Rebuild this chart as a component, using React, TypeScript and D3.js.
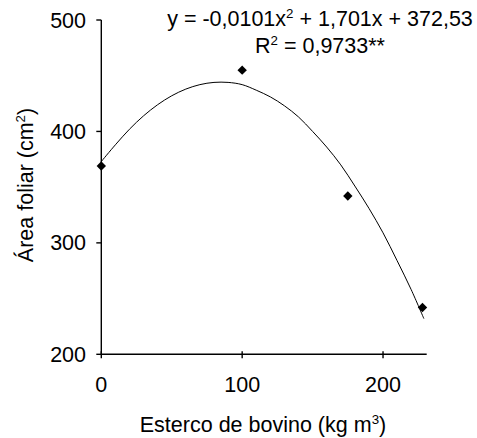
import { useEffect, useRef } from 'react'
import * as d3 from 'd3'

// observed points (esterco de bovino, area foliar)
const doseX = [0, 100, 175, 228]
const areaY = [369, 455, 342, 242]

// fitted curve
const curveX = [0, 10, 20, 30, 40, 50, 60, 70, 80, 90, 100, 110, 120, 130, 140, 150, 160, 170, 180, 190, 200, 210, 220, 229]
const curveY = [373, 388, 402, 414, 424, 432, 438, 442, 444, 444, 442, 437, 431, 423, 413, 400, 386, 370, 351, 331, 309, 284, 258, 232]

const xTicks = [0, 100, 200]
const yTicks = [200, 300, 400, 500]

const FONT = '"Liberation Sans", Arial, sans-serif'

export default function App() {
  const svgRef = useRef<SVGSVGElement>(null)

  useEffect(() => {
    if (!svgRef.current) return
    const svg = d3.select(svgRef.current)
    svg.selectAll('*').remove()

    const x = d3.scaleLinear().domain([0, 231]).range([101.3, 426.7])
    const y = d3.scaleLinear().domain([200, 500]).range([354.3, 20])
    const fs = 21.5
    const sup = fs * 0.62

    const g = svg.append('g')

    // axes lines
    g.append('line')
      .attr('x1', x(0)).attr('x2', x(0))
      .attr('y1', y(500)).attr('y2', y(200))
      .attr('stroke', '#000').attr('stroke-width', 1.4)
    g.append('line')
      .attr('x1', x(0)).attr('x2', x(231))
      .attr('y1', y(200)).attr('y2', y(200))
      .attr('stroke', '#000').attr('stroke-width', 1.4)

    // y ticks
    yTicks.forEach((t) => {
      g.append('line')
        .attr('x1', x(0) - 5).attr('x2', x(0))
        .attr('y1', y(t)).attr('y2', y(t))
        .attr('stroke', '#000').attr('stroke-width', 1.4)
      g.append('text')
        .attr('x', 86).attr('y', y(t) + 7.5)
        .attr('text-anchor', 'end')
        .attr('font-family', FONT).attr('font-size', fs)
        .text(t)
    })

    // x ticks
    xTicks.forEach((t) => {
      g.append('line')
        .attr('x1', x(t)).attr('x2', x(t))
        .attr('y1', y(200) - 3).attr('y2', y(200) + 4)
        .attr('stroke', '#000').attr('stroke-width', 1.4)
      g.append('text')
        .attr('x', x(t)).attr('y', 392)
        .attr('text-anchor', 'middle')
        .attr('font-family', FONT).attr('font-size', fs)
        .text(t)
    })

    // axis titles
    const xt = g.append('text')
      .attr('x', 263).attr('y', 432)
      .attr('text-anchor', 'middle')
      .attr('font-family', FONT).attr('font-size', fs)
    xt.append('tspan').text('Esterco de bovino (kg m')
    xt.append('tspan').attr('font-size', sup).attr('dy', -8).text('3')
    xt.append('tspan').attr('dy', 8).text(')')

    const yt = g.append('text')
      .attr('transform', `translate(33,185) rotate(-90)`)
      .attr('text-anchor', 'middle')
      .attr('font-family', FONT).attr('font-size', fs)
    yt.append('tspan').text('Área foliar (cm')
    yt.append('tspan').attr('font-size', sup).attr('dy', -8).text('2')
    yt.append('tspan').attr('dy', 8).text(')')

    // fitted curve
    const line = d3.line<number>()
      .x((_, i) => x(curveX[i]))
      .y((d) => y(d))
      .curve(d3.curveCatmullRom)
    g.append('path')
      .attr('d', line(curveY))
      .attr('fill', 'none')
      .attr('stroke', '#000')
      .attr('stroke-width', 1)

    // points
    const sym = d3.symbol().type(d3.symbolSquare).size(44)
    doseX.forEach((d, i) => {
      g.append('path')
        .attr('d', sym())
        .attr('transform', `translate(${x(d)},${y(areaY[i])}) rotate(45)`)
        .attr('fill', '#000')
    })

    // equation
    const eq = g.append('text')
      .attr('x', 320).attr('y', 26)
      .attr('text-anchor', 'middle')
      .attr('font-family', FONT).attr('font-size', fs)
    eq.append('tspan').text('y = -0,0101x')
    eq.append('tspan').attr('font-size', sup).attr('dy', -8).text('2')
    eq.append('tspan').attr('dy', 8).text(' + 1,701x + 372,53')

    const r2 = g.append('text')
      .attr('x', 320).attr('y', 53)
      .attr('text-anchor', 'middle')
      .attr('font-family', FONT).attr('font-size', fs)
    r2.append('tspan').text('R')
    r2.append('tspan').attr('font-size', sup).attr('dy', -8).text('2')
    r2.append('tspan').attr('dy', 8).text(' = 0,9733**')
  }, [])

  return (
    <svg
      ref={svgRef}
      width={477}
      height={438}
      style={{ position: 'absolute', left: 0, top: 0, background: '#fff' }}
    />
  )
}
